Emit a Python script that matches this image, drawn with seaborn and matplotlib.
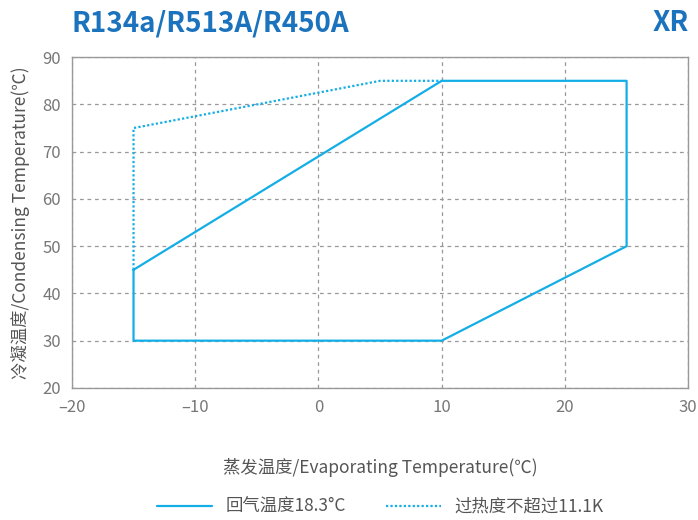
import matplotlib
matplotlib.use("Agg")
import matplotlib.pyplot as plt
import seaborn as sns
import pandas as pd

# Data
solid_evap = [-15, 10, 25, 25, 10, -15, -15]
solid_cond = [45, 85, 85, 50, 30, 30, 45]
dot_evap = [-15, -15, 5, 10]
dot_cond = [45, 75, 85, 85]
solid_label = "回气温度18.3°C"
dot_label = "过热度不超过11.1K"
x_ticks = [-20, -10, 0, 10, 20, 30]
y_ticks = [20, 30, 40, 50, 60, 70, 80, 90]

sns.set_theme(style="white")
plt.rcParams['font.family'] = ['Noto Sans CJK SC', 'DejaVu Sans']
plt.rcParams['axes.unicode_minus'] = True

line_color = "#13aee6"
gray = "#777777"

fig = plt.figure(figsize=(6.98, 5.2), dpi=100)
ax = fig.add_axes([0.103, 0.254, 0.883, 0.636])

df_s = pd.DataFrame({"x": solid_evap, "y": solid_cond})
df_d = pd.DataFrame({"x": dot_evap, "y": dot_cond})
sns.lineplot(data=df_s, x="x", y="y", sort=False, estimator=None, ax=ax,
             color=line_color, lw=1.6, label=solid_label)
sns.lineplot(data=df_d, x="x", y="y", sort=False, estimator=None, ax=ax,
             color=line_color, lw=1.6, ls=(0, (1, 1)), label=dot_label)

ax.set_xlim(-20, 30)
ax.set_ylim(20, 90)
ax.set_xticks(x_ticks)
ax.set_yticks(y_ticks)
ax.set_xticklabels(["\u201320" if v == -20 else ("\u201310" if v == -10 else str(v)) for v in x_ticks])
ax.grid(True, ls=(0, (3, 3)), color="#999999", lw=0.9)
for s in ax.spines.values():
    s.set_color("#999999")
    s.set_linewidth(1.0)
ax.tick_params(axis='both', colors=gray, labelsize=12, length=0, pad=8)
ax.set_xlabel("蒸发温度/Evaporating Temperature(℃)", fontsize=12.5, color="#555555", labelpad=30)
ax.set_ylabel("冷凝温度/Condensing Temperature(℃)", fontsize=12.5, color="#555555", labelpad=9)

leg = ax.legend(loc="upper center", bbox_to_anchor=(0.5, -0.285), ncol=2, frameon=False,
                fontsize=12.5, handlelength=3.2, columnspacing=2.3, handletextpad=0.75)
for t in leg.get_texts():
    t.set_color("#555555")

fig.text(0.103, 0.955, "R134a/R513A/R450A", fontsize=20, fontweight="bold",
         color="#1b72bd", ha="left", va="center")
fig.text(0.987, 0.955, "XR", fontsize=20, fontweight="bold",
         color="#1b72bd", ha="right", va="center")

fig.savefig("out.png", dpi=100)
